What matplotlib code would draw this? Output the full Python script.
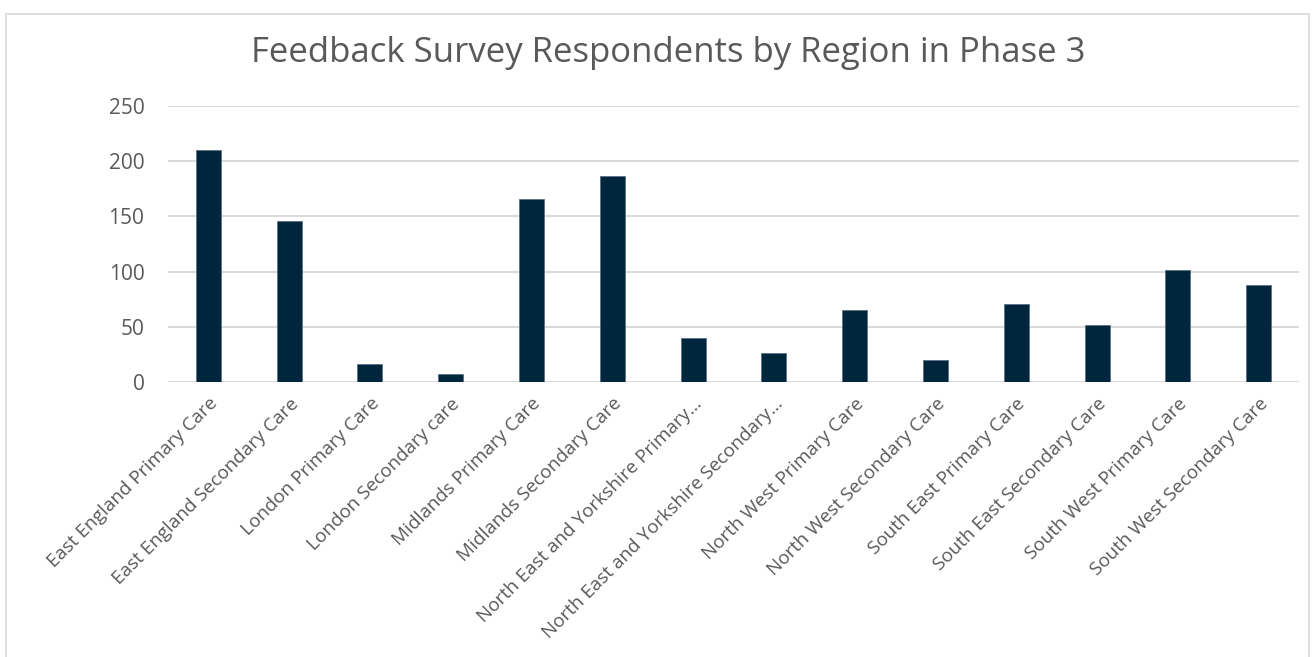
import matplotlib.pyplot as plt
from matplotlib.patches import Rectangle

categories = [
    "East England Primary Care",
    "East England Secondary Care",
    "London Primary Care",
    "London Secondary care",
    "Midlands Primary Care",
    "Midlands Secondary Care",
    "North East and Yorkshire Primary\u2026",
    "North East and Yorkshire Secondary\u2026",
    "North West Primary Care",
    "North West Secondary Care",
    "South East Primary Care",
    "South East Secondary Care",
    "South West Primary Care",
    "South West Secondary Care",
]
respondents = [210, 146, 16, 7, 166, 187, 40, 26, 65, 20, 71, 52, 101, 88]
yticks = [0, 50, 100, 150, 200, 250]

plt.rcParams['font.family'] = ['Open Sans', 'DejaVu Sans']

fig = plt.figure(figsize=(13.15, 6.57), dpi=100)
ax = fig.add_axes([168 / 1315, 1 - 382 / 657, 1131 / 1315, 276 / 657])

x = range(len(categories))
ax.bar(x, respondents, width=0.31, color="#00263e", edgecolor="#5a7184",
       linewidth=0.6, zorder=3)

ax.set_xlim(-0.5, len(categories) - 0.5)
ax.set_ylim(0, 250)
ax.set_yticks(yticks)
ax.set_yticklabels([str(v) for v in yticks], fontsize=15, color="#595959")
ax.set_xticks(list(x))
ax.set_xticklabels(categories, rotation=45, ha="right", rotation_mode="anchor",
                   fontsize=13.6, color="#595959")
ax.tick_params(axis="both", length=0)
ax.tick_params(axis="x", pad=9)
ax.tick_params(axis="y", pad=17)

ax.grid(axis="y", color="#d9d9d9", linewidth=1.4, zorder=0)
for s in ax.spines.values():
    s.set_visible(False)

fig.text(668 / 1315, 1 - 53 / 657, "Feedback Survey Respondents by Region in Phase 3",
         ha="center", va="center", fontsize=25, color="#595959")

# chart border
fig.patches.append(Rectangle((6 / 1315, -0.1), 1303 / 1315, 1.1 - 14 / 657,
                             transform=fig.transFigure, fill=False,
                             edgecolor="#d9d9d9", linewidth=1.2))

fig.savefig("out.png", dpi=100, facecolor="white")
